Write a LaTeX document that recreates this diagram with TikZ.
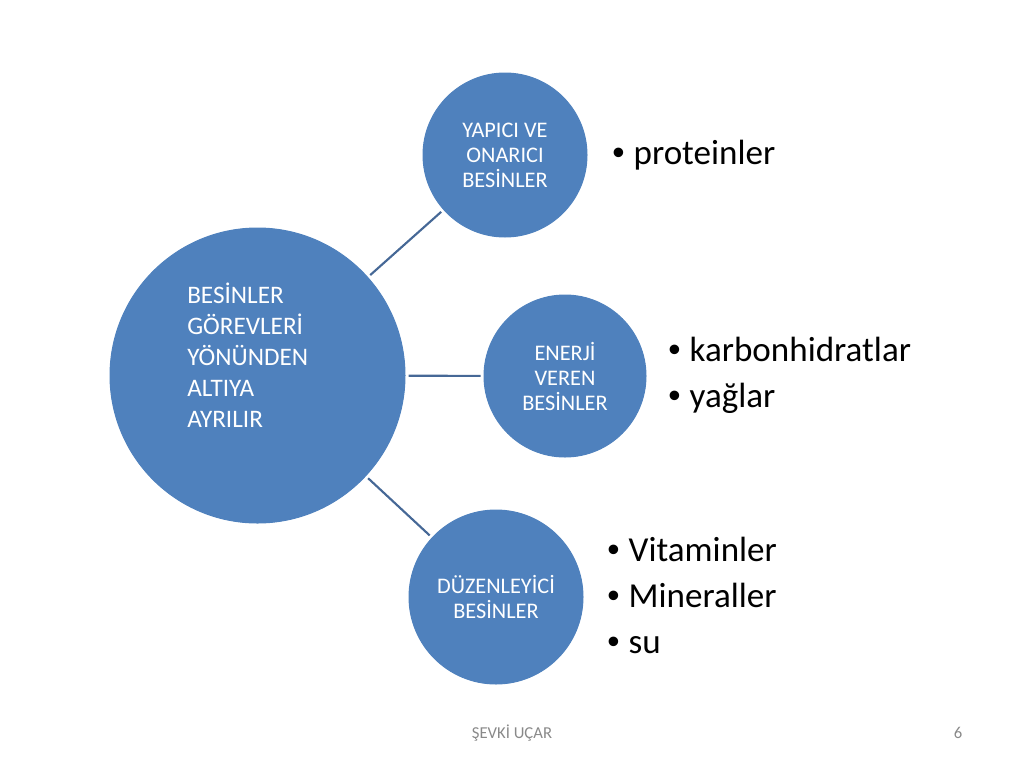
\documentclass[tikz,border=0pt]{standalone}
\usepackage{fontspec}
\setmainfont{Carlito}
\newfontfamily\bulfont{Liberation Sans}
\usepackage{xcolor}
\usepackage{tikz}
\usetikzlibrary{positioning}

\definecolor{accent}{RGB}{79,129,189}
\definecolor{wirecol}{RGB}{70,104,150}
\definecolor{footgray}{RGB}{137,137,137}

\newcommand{\blt}{\makebox[0.61em][l]{\bulfont\textbullet}}

\tikzset{
  bubble/.style={circle, fill=accent, draw=accent, line width=0.75pt, text=white, align=center, inner sep=0pt},
  wire/.style={draw=wirecol, line width=1.6pt, shorten >=2.25pt, shorten <=2.25pt},
  items/.style={anchor=west, align=left, inner sep=0pt, font=\fontsize{26.3}{34.5}\selectfont},
  small/.style={font=\fontsize{16.7}{18.75}\selectfont}
}

\begin{document}
\begin{tikzpicture}[x=0.75pt, y=-0.75pt]
				\useasboundingbox (0, 0) rectangle (1024, 768);
				% Circles:
				\node[bubble, minimum size=221.25pt](B) at (257.5, 375.5){};
				\node[anchor=west, align=left, inner sep=0pt, text=white, font=\fontsize{18.9}{23.25}\selectfont](Btxt) at (187, 355){BES\.{I}NLER\\G\"OREVLER\.{I}\\Y\"ON\"UNDEN\\ALTIYA\\AYRILIR};
				\node[bubble, small, minimum size=123pt](T) at (505, 155){YAPICI VE\\ONARICI\\BES\.{I}NLER};
				\node[bubble, small, minimum size=121.5pt](M) at (565, 376){ENERJ\.{I}\\VEREN\\BES\.{I}NLER};
				\node[bubble, small, minimum size=130.5pt](D) at (496, 597){D\"UZENLEY\.{I}C\.{I}\\BES\.{I}NLER};
				% Wires:
				\draw[wire] (B) -- (T);
				\draw[wire] (B) -- (M);
				\draw[wire] (B) -- (D);
				% Lists:
				\node[items](Tlist) at (612, 155){\blt proteinler};
				\node[items](Mlist) at (668, 375){\blt karbonhidratlar\\\blt ya\u{g}lar};
				\node[items](Dlist) at (607, 595){\blt Vitaminler\\\blt Mineraller\\\blt su};
				% Footer:
				\node[text=footgray, font=\fontsize{12.5}{14}\selectfont](foot) at (512, 733){\c{S}EVK\.{I} U\c{C}AR};
				\node[text=footgray, font=\fontsize{12.5}{14}\selectfont](num) at (958, 733){6};
			\end{tikzpicture}
\end{document}
